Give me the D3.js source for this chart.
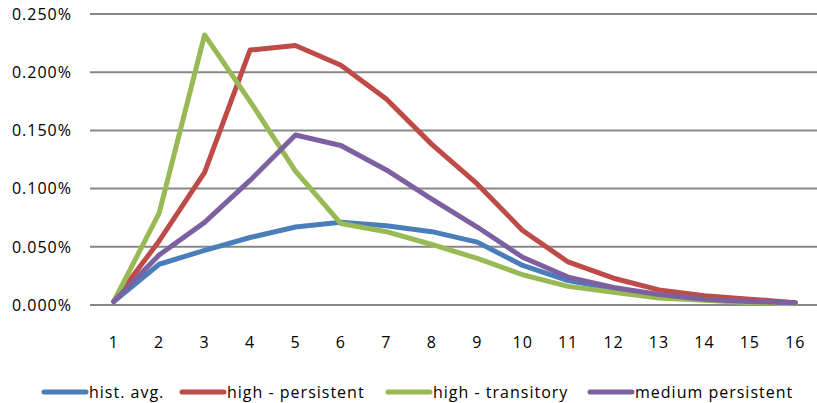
<!DOCTYPE html>
<html>
<head>
<meta charset="utf-8">
<script src="https://cdn.jsdelivr.net/npm/d3@7"></script>
<style>
  html, body { margin: 0; padding: 0; background: #fff; }
  svg { display: block; }
  text { font-family: "Open Sans", sans-serif; fill: #000; }
</style>
</head>
<body>
<svg id="chart" width="817" height="403"></svg>
<script>
const categories = ["1","2","3","4","5","6","7","8","9","10","11","12","13","14","15","16"];
const seriesNames = ["hist. avg.", "high - persistent", "high - transitory", "medium persistent"];
const histAvg = [0.003, 0.035, 0.047, 0.058, 0.067, 0.071, 0.068, 0.063, 0.054, 0.034, 0.021, 0.014, 0.008, 0.005, 0.003, 0.002];
const highPersistent = [0.003, 0.055, 0.114, 0.219, 0.223, 0.206, 0.177, 0.138, 0.104, 0.064, 0.037, 0.023, 0.013, 0.008, 0.005, 0.002];
const highTransitory = [0.003, 0.079, 0.232, 0.175, 0.115, 0.070, 0.063, 0.052, 0.040, 0.026, 0.016, 0.011, 0.006, 0.004, 0.002, 0.001];
const mediumPersistent = [0.003, 0.043, 0.071, 0.107, 0.146, 0.137, 0.116, 0.091, 0.067, 0.041, 0.024, 0.015, 0.009, 0.005, 0.003, 0.002];
const yTicks = [0, 0.05, 0.10, 0.15, 0.20, 0.25];
const colors = ["#4A7EBB", "#BE4B48", "#98B954", "#7D60A0"];

const seriesValues = [histAvg, highPersistent, highTransitory, mediumPersistent];

const svg = d3.select("#chart");
const x = d3.scalePoint().domain(categories).range([91, 818]).padding(0.5);
const y = d3.scaleLinear().domain([0, 0.25]).range([305, 14]);

// gridlines
svg.append("g").selectAll("line").data(yTicks).join("line")
  .attr("x1", 90).attr("x2", 817)
  .attr("y1", d => y(d)).attr("y2", d => y(d))
  .attr("stroke", "#878787").attr("stroke-width", 2);

// y labels
svg.append("g").selectAll("text").data(yTicks).join("text")
  .attr("x", 72).attr("y", d => y(d))
  .attr("dy", "0.36em")
  .attr("text-anchor", "end")
  .style("font-size", "16px").style("letter-spacing", "1px")
  .text(d => d3.format(".3f")(d) + "%");

// x labels
svg.append("g").selectAll("text").data(categories).join("text")
  .attr("x", d => x(d)).attr("y", 342)
  .attr("dy", "0.36em")
  .attr("text-anchor", "middle")
  .style("font-size", "16px").style("letter-spacing", "1px")
  .text(d => d);

// lines
const line = d3.line().x((d, i) => x(categories[i])).y(d => y(d));
svg.append("g").selectAll("path").data(seriesValues).join("path")
  .attr("d", d => line(d))
  .attr("fill", "none")
  .attr("stroke", (d, i) => colors[i])
  .attr("stroke-width", 5)
  .attr("stroke-linejoin", "round")
  .attr("stroke-linecap", "round");

// legend
const legendX = [42, 180, 386, 588];
const lg = svg.append("g").selectAll("g").data(seriesNames).join("g")
  .attr("transform", (d, i) => `translate(${legendX[i]},392)`);
lg.append("line").attr("x1", 2).attr("x2", 44).attr("y1", 0).attr("y2", 0)
  .attr("stroke", (d, i) => colors[i]).attr("stroke-width", 5).attr("stroke-linecap", "round");
lg.append("text").attr("x", 47).attr("y", 0).attr("dy", "0.36em")
  .style("font-size", "16px").style("letter-spacing", "1px")
  .text(d => d);
</script>
</body>
</html>
